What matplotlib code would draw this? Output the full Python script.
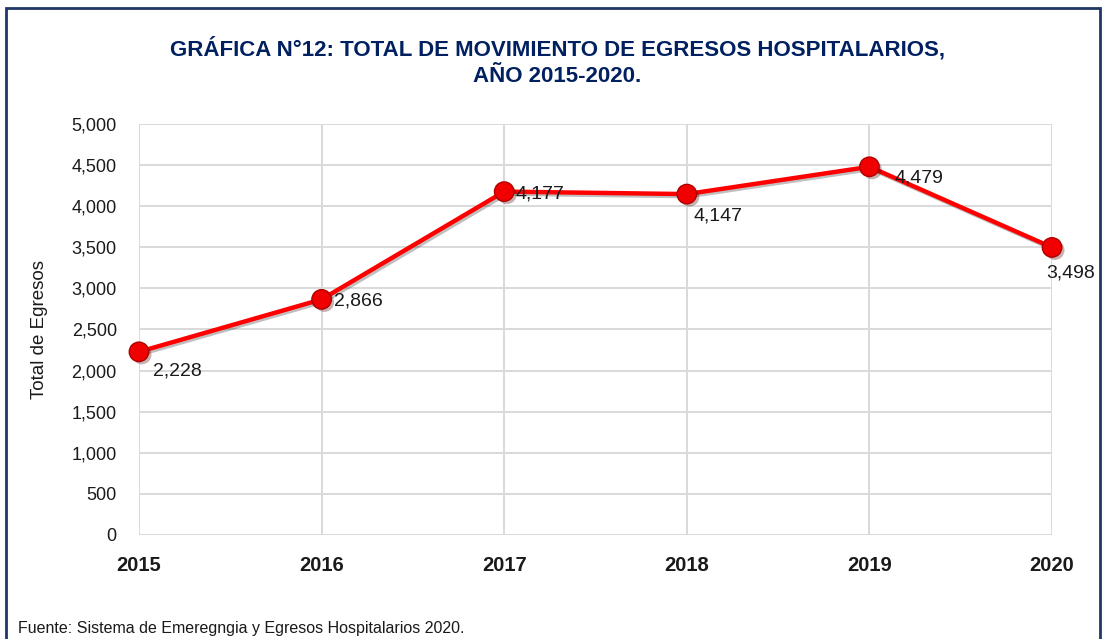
import matplotlib

matplotlib.use("Agg")

import matplotlib.pyplot as plt
from matplotlib import font_manager
from matplotlib.patches import Rectangle
import matplotlib.patheffects as pe

years = [2015, 2016, 2017, 2018, 2019, 2020]
egresos = [2228, 2866, 4177, 4147, 4479, 3498]
# label offsets in pixels (dx, dy, ha) per point
label_offsets = [(14, -19, "left"), (12, -2, "left"), (11, -2, "left"),
                 (7, -22, "left"), (25, -11, "left"), (19, -26, "center")]
y_ticks = [0, 500, 1000, 1500, 2000, 2500, 3000, 3500, 4000, 4500, 5000]

title = "GRÁFICA N°12: TOTAL DE MOVIMIENTO DE EGRESOS HOSPITALARIOS,\nAÑO 2015-2020."
source = "Fuente: Sistema de Emeregngia y Egresos Hospitalarios 2020."

names = {f.name for f in font_manager.fontManager.ttflist}
narrow = "Liberation Sans Narrow" if "Liberation Sans Narrow" in names else "Liberation Sans"
plt.rcParams["font.family"] = [narrow, "DejaVu Sans"]

navy = "#002060"
grid_color = "#d9d9d9"

fig = plt.figure(figsize=(11.03, 6.39), dpi=100)
ax = fig.add_axes([0.126, 0.1628, 0.8278, 0.6432])

ax.plot(years, egresos, color="#ff0000", linewidth=3.2, zorder=3,
        path_effects=[pe.SimpleLineShadow(offset=(1.5, -1.5), alpha=0.25), pe.Normal()])
ax.plot(years, egresos, linestyle="none", marker="o", markersize=14,
        markerfacecolor="#f00000", markeredgecolor="#b00000", markeredgewidth=1.0,
        zorder=4, clip_on=False,
        path_effects=[pe.SimplePatchShadow(offset=(2, -2), alpha=0.3), pe.Normal()])

for x, y, (dx, dy, ha) in zip(years, egresos, label_offsets):
    ax.annotate(f"{y:,}", (x, y), xytext=(dx, dy), textcoords="offset pixels",
                ha=ha, va="center", fontsize=14, color="#1a1a1a", zorder=5)

ax.set_xlim(2015, 2020)
ax.set_ylim(0, 5000)
ax.set_xticks(years)
ax.set_xticklabels([str(y) for y in years], fontsize=14.5, fontweight="bold", color="#1a1a1a")
ax.set_yticks(y_ticks)
ax.set_yticklabels([f"{v:,}" for v in y_ticks], fontsize=13, color="#1a1a1a")
ax.tick_params(axis="both", length=0)
ax.tick_params(axis="x", pad=15)
ax.tick_params(axis="y", pad=16)
ax.grid(True, color=grid_color, linewidth=1.4)
ax.set_axisbelow(True)
for spine in ax.spines.values():
    spine.set_visible(False)

ax.set_ylabel("Total de Egresos", fontsize=13.5, color="#1a1a1a")
ax.yaxis.set_label_coords(-0.1, 0.5)

fig.text(0.505, 0.903, title, ha="center", va="center", fontsize=16,
         fontweight="bold", color=navy, linespacing=1.4)
fig.text(0.016, 0.017, source, ha="left", va="center", fontsize=11.5, color="#1a1a1a")

border = Rectangle((6 / 1103, -0.05), (1100 - 6) / 1103, 1.05 - 8 / 639,
                   transform=fig.transFigure, fill=False, edgecolor="#1f3864",
                   linewidth=2.0, clip_on=False)
fig.patches.append(border)

fig.savefig("out.png", dpi=100)
